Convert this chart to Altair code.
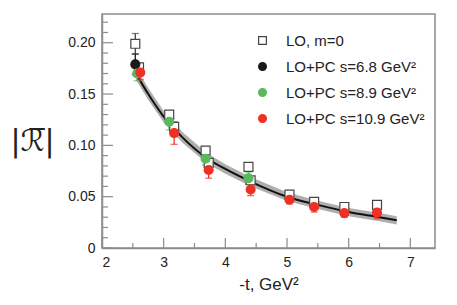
import altair as alt
import pandas as pd

# ---- data ----
curve_x = [2.56, 2.75, 3.0, 3.3, 3.7, 4.0, 4.4, 5.0, 5.5, 6.0, 6.5, 6.78]
curve_y = [0.169, 0.150, 0.128, 0.108, 0.0875, 0.077, 0.065, 0.050, 0.042, 0.035, 0.030, 0.027]
curve_err = [0.006, 0.0058, 0.0055, 0.0052, 0.005, 0.0047, 0.0045, 0.0042, 0.004, 0.004, 0.004, 0.004]

lo_x = [2.54, 2.60, 3.09, 3.17, 3.68, 3.73, 4.375, 4.41, 5.04, 5.44, 5.93, 6.46]
lo_y = [0.199, 0.176, 0.130, 0.118, 0.095, 0.083, 0.079, 0.066, 0.052, 0.045, 0.040, 0.042]
lo_e = [0.010, 0.003, 0.003, 0.003, 0.003, 0.003, 0.003, 0.003, 0.002, 0.002, 0.002, 0.002]

b_x = [2.54]
b_y = [0.179]
b_e = [0.010]

g_x = [2.57, 3.09, 3.68, 4.375]
g_y = [0.170, 0.123, 0.087, 0.068]
g_e = [0.007, 0.008, 0.006, 0.006]

r_x = [2.62, 3.17, 3.73, 4.41, 5.04, 5.44, 5.93, 6.46]
r_y = [0.171, 0.112, 0.076, 0.057, 0.047, 0.040, 0.034, 0.0345]
r_e = [0.007, 0.011, 0.008, 0.006, 0.004, 0.005, 0.004, 0.006]

series_names = ["LO, m=0", "LO+PC s=6.8 GeV²", "LO+PC s=8.9 GeV²", "LO+PC s=10.9 GeV²"]
stroke_cols = ["#444444", "#1a1a1a", "#5cb85c", "#ee3124"]
fill_cols = ["#ffffff", "#1a1a1a", "#5cb85c", "#ee3124"]
shapes = ["square", "circle", "circle", "circle"]

x_major = [2, 3, 4, 5, 6, 7]
x_minor = [2.5, 3.5, 4.5, 5.5, 6.5]
y_major = [0.0, 0.05, 0.10, 0.15, 0.20]
y_minor = [0.01, 0.02, 0.03, 0.04, 0.06, 0.07, 0.08, 0.09, 0.11, 0.12, 0.13, 0.14,
           0.16, 0.17, 0.18, 0.19, 0.21, 0.22]

# ---- tables ----
rows = []
for name, xs_, ys_, es_ in zip(series_names, [lo_x, b_x, g_x, r_x], [lo_y, b_y, g_y, r_y], [lo_e, b_e, g_e, r_e]):
    for x, y, e in zip(xs_, ys_, es_):
        rows.append({"series": name, "x": x, "y": y, "lo": y - e, "hi": y + e})
pts = pd.DataFrame(rows)
pts["order"] = pts["series"].map({n: i for i, n in enumerate(series_names)})

curve = pd.DataFrame({"x": curve_x, "y": curve_y,
                      "lo": [y - e for y, e in zip(curve_y, curve_err)],
                      "hi": [y + e for y, e in zip(curve_y, curve_err)]})

xs = alt.Scale(domain=[2, 7.4], nice=False, zero=False)
ys = alt.Scale(domain=[0, 0.228], nice=False, zero=False)

X = alt.X("x:Q", scale=xs, title="-t, GeV²",
          axis=alt.Axis(values=x_major, format="d", ticks=False, grid=False,
                        labelFontSize=14, labelPadding=7, titleFontSize=17,
                        titleFontWeight="normal", titlePadding=7,
                        domainColor="#8c8c8c", domainWidth=1.5, labelColor="#222",
                        titleColor="#222"))
Y = alt.Y("y:Q", scale=ys, title="|ℛ\u0305|",
          axis=alt.Axis(values=y_major, labelExpr="datum.value == 0 ? '0' : format(datum.value, '.2f')",
                        ticks=False, grid=False, labelFontSize=14, labelPadding=7,
                        titleFontSize=30, titleFontWeight="normal", titleAngle=0,
                        titleAlign="center", titleBaseline="middle", titleX=-70, titleY=127,
                        titleFont="DejaVu Sans", titleColor="#222",
                        domainColor="#8c8c8c", domainWidth=1.5, labelColor="#222"))

stroke_scale = alt.Scale(domain=series_names, range=stroke_cols)
fill_scale = alt.Scale(domain=series_names, range=fill_cols)
shape_scale = alt.Scale(domain=series_names, range=shapes)

legend = alt.Legend(title=None, orient="none", legendX=153, legendY=19, labelFontSize=15,
                    labelColor="#222", symbolSize=60, labelOffset=16, rowPadding=10,
                    padding=0, symbolStrokeWidth=1.2, symbolOpacity=1,
                    labelFont="Liberation Sans")
Cbar = alt.Color("series:N", scale=alt.Scale(domain=series_names, range=stroke_cols), legend=None)

band = alt.Chart(curve).mark_area(color="#9a9a9a", opacity=0.8).encode(
    x=X, y=alt.Y("lo:Q", scale=ys), y2="hi:Q")
line = alt.Chart(curve).mark_line(color="#111111", strokeWidth=2, interpolate="monotone").encode(
    x=X, y=alt.Y("y:Q", scale=ys))

err = alt.Chart(pts).mark_rule(strokeWidth=1.3).encode(
    x=alt.X("x:Q", scale=xs), y=alt.Y("lo:Q", scale=ys), y2="hi:Q", color=Cbar)
cap_lo = alt.Chart(pts).mark_tick(orient="horizontal", size=7, thickness=1.3).encode(
    x=alt.X("x:Q", scale=xs), y=alt.Y("lo:Q", scale=ys), color=Cbar)
cap_hi = alt.Chart(pts).mark_tick(orient="horizontal", size=7, thickness=1.3).encode(
    x=alt.X("x:Q", scale=xs), y=alt.Y("hi:Q", scale=ys), color=Cbar)

points = alt.Chart(pts).mark_point(size=80, opacity=1, strokeWidth=1.2, filled=True).encode(
    x=alt.X("x:Q", scale=xs), y=alt.Y("y:Q", scale=ys),
    stroke=alt.Stroke("series:N", scale=stroke_scale, legend=legend, sort=series_names),
    fill=alt.Fill("series:N", scale=fill_scale, legend=legend, sort=series_names),
    shape=alt.Shape("series:N", scale=shape_scale, legend=legend, sort=series_names),
    order=alt.Order("order:Q"))

# inward ticks
xt_major = alt.Chart(pd.DataFrame({"x": x_major})).mark_rule(color="#8c8c8c", strokeWidth=1.2).encode(
    x=alt.X("x:Q", scale=xs), y=alt.value(234), y2=alt.value(224))
xt_minor = alt.Chart(pd.DataFrame({"x": x_minor})).mark_rule(color="#8c8c8c", strokeWidth=1.2).encode(
    x=alt.X("x:Q", scale=xs), y=alt.value(234), y2=alt.value(229))
yt_major = alt.Chart(pd.DataFrame({"y": y_major})).mark_rule(color="#8c8c8c", strokeWidth=1.2).encode(
    y=alt.Y("y:Q", scale=ys), x=alt.value(0), x2=alt.value(11))
yt_minor = alt.Chart(pd.DataFrame({"y": y_minor})).mark_rule(color="#8c8c8c", strokeWidth=1.2).encode(
    y=alt.Y("y:Q", scale=ys), x=alt.value(0), x2=alt.value(6))

base = alt.Chart(curve).mark_point(opacity=0).encode(x=X, y=Y)

chart = alt.layer(base, band, line, xt_major, xt_minor, yt_major, yt_minor,
                  err, cap_lo, cap_hi, points).resolve_scale(color="independent").properties(
    width=333, height=234,
    autosize=alt.AutoSizeParams(type="none"),
    padding={"left": 94, "top": 6, "right": 14, "bottom": 48},
    background="white",
).configure_view(stroke="#8c8c8c", strokeWidth=1.5).configure_axis(
    labelFont="Liberation Sans", titleFont="Liberation Sans")

chart.save("out.html", embed_options={"renderer": "svg", "actions": False})
